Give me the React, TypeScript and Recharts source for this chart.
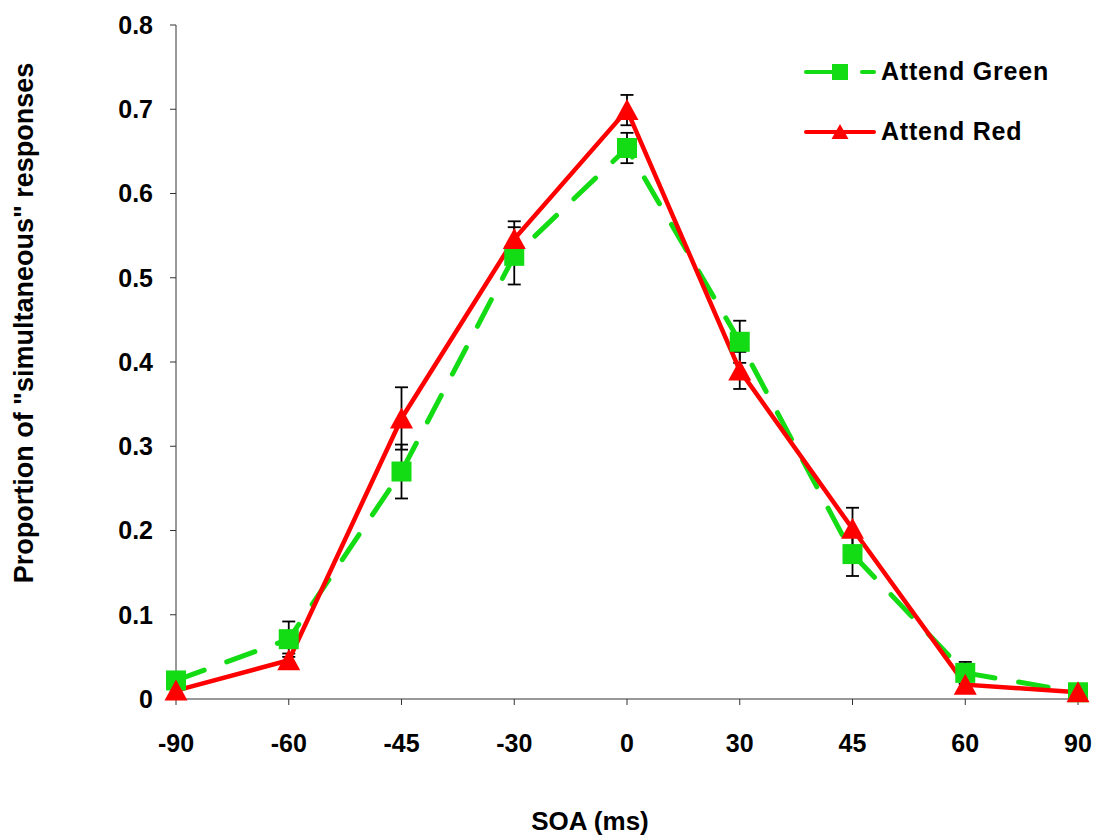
import React from 'react';
import { LineChart, Line, XAxis, YAxis, ErrorBar, Legend, Label } from 'recharts';

// SOA categories (ms)
const soaLabels = ['-90', '-60', '-45', '-30', '0', '30', '45', '60', '90'];

// Proportion of "simultaneous" responses, Attend Green condition
const attendGreen = [0.022, 0.071, 0.27, 0.526, 0.654, 0.424, 0.172, 0.031, 0.008];
const attendGreenErr = [0.008, 0.021, 0.032, 0.034, 0.018, 0.025, 0.026, 0.013, 0.004];

// Proportion of "simultaneous" responses, Attend Red condition
const attendRed = [0.01, 0.046, 0.333, 0.546, 0.699, 0.39, 0.202, 0.017, 0.008];
const attendRedErr = [0.006, 0.008, 0.037, 0.021, 0.018, 0.022, 0.025, 0.01, 0.004];

const yTicks = [0, 0.1, 0.2, 0.3, 0.4, 0.5, 0.6, 0.7, 0.8];

const GREEN = '#14DC14';
const RED = '#FF0000';
const FONT = '"Liberation Sans", Arial, sans-serif';

const data = soaLabels.map((soa, i) => ({
  soa,
  green: attendGreen[i],
  greenErr: attendGreenErr[i],
  red: attendRed[i],
  redErr: attendRedErr[i],
}));

const SquareDot = (props: any) => {
  const { cx, cy, index } = props;
  if (cx == null || cy == null) return <g key={`g-${index}`} />;
  return <rect key={`g-${index}`} x={cx - 10} y={cy - 10} width={20} height={20} fill={GREEN} />;
};

const TriangleDot = (props: any) => {
  const { cx, cy, index } = props;
  if (cx == null || cy == null) return <g key={`r-${index}`} />;
  const pts = `${cx},${cy - 11} ${cx + 11.5},${cy + 10} ${cx - 11.5},${cy + 10}`;
  return <polygon key={`r-${index}`} points={pts} fill={RED} />;
};

const renderLegend = () => (
  <svg width={290} height={100} style={{ display: 'block' }}>
    <line x1={2} y1={22} x2={42} y2={22} stroke={GREEN} strokeWidth={4} strokeLinecap="round" />
    <line x1={58} y1={22} x2={70} y2={22} stroke={GREEN} strokeWidth={4} strokeLinecap="round" />
    <rect x={28} y={14} width={16} height={16} fill={GREEN} />
    <text x={77} y={30} fontFamily={FONT} fontWeight="bold" fontSize={25} letterSpacing={0.8} fill="#000">
      Attend Green
    </text>
    <line x1={2} y1={82} x2={70} y2={82} stroke={RED} strokeWidth={4} strokeLinecap="round" />
    <polygon points="36,74 44.5,89 27.5,89" fill={RED} />
    <text x={77} y={90} fontFamily={FONT} fontWeight="bold" fontSize={25} letterSpacing={0.8} fill="#000">
      Attend Red
    </text>
  </svg>
);

const tickStyle = { fill: '#000', fontSize: 25, fontWeight: 'bold' as const, fontFamily: FONT };

export default function App() {
  return (
    <div style={{ position: 'absolute', left: 0, top: 0, background: '#fff' }}>
      <LineChart
        width={1094}
        height={837}
        data={data}
        margin={{ top: 25, right: 16, bottom: 78, left: 0 }}
      >
        <XAxis
          dataKey="soa"
          type="category"
          interval={0}
          padding={{ left: 0, right: 0 }}
          height={60}
          tick={tickStyle}
          tickSize={6}
          tickMargin={29}
          axisLine={{ stroke: '#333', strokeWidth: 1 }}
          tickLine={{ stroke: '#333', strokeWidth: 1 }}
        >
          <Label
            content={() => (
              <text
                x={590}
                y={830}
                textAnchor="middle"
                fontFamily={FONT}
                fontWeight="bold"
                fontSize={26}
                fill="#000"
              >
                SOA (ms)
              </text>
            )}
          />
        </XAxis>
        <YAxis
          width={176}
          domain={[0, 0.8]}
          ticks={yTicks}
          interval={0}
          tick={tickStyle}
          tickSize={6}
          tickMargin={17}
          tickFormatter={(v: number) => (v === 0 ? '0' : v.toFixed(1))}
          axisLine={{ stroke: '#333', strokeWidth: 1 }}
          tickLine={{ stroke: '#333', strokeWidth: 1 }}
        >
          <Label
            content={() => (
              <text
                x={33}
                y={323}
                transform="rotate(-90 33 323)"
                textAnchor="middle"
                fontFamily={FONT}
                fontWeight="bold"
                fontSize={27}
                fill="#000"
              >
                Proportion of "simultaneous" responses
              </text>
            )}
          />
        </YAxis>
        <Legend
          layout="vertical"
          align="center"
          verticalAlign="middle"
          content={renderLegend}
          wrapperStyle={{ position: 'absolute', left: 804, top: 50, width: 290, height: 100 }}
        />
        <Line
          dataKey="green"
          name="Attend Green"
          stroke={GREEN}
          strokeWidth={5}
          strokeDasharray="30 24"
          strokeLinecap="round"
          dot={SquareDot}
          activeDot={false}
          isAnimationActive={false}
          type="linear"
        >
          <ErrorBar dataKey="greenErr" width={6.5} stroke="#000" strokeWidth={1.8} direction="y" />
        </Line>
        <Line
          dataKey="red"
          name="Attend Red"
          stroke={RED}
          strokeWidth={4.5}
          dot={TriangleDot}
          activeDot={false}
          isAnimationActive={false}
          type="linear"
        >
          <ErrorBar dataKey="redErr" width={6.5} stroke="#000" strokeWidth={1.8} direction="y" />
        </Line>
      </LineChart>
    </div>
  );
}
